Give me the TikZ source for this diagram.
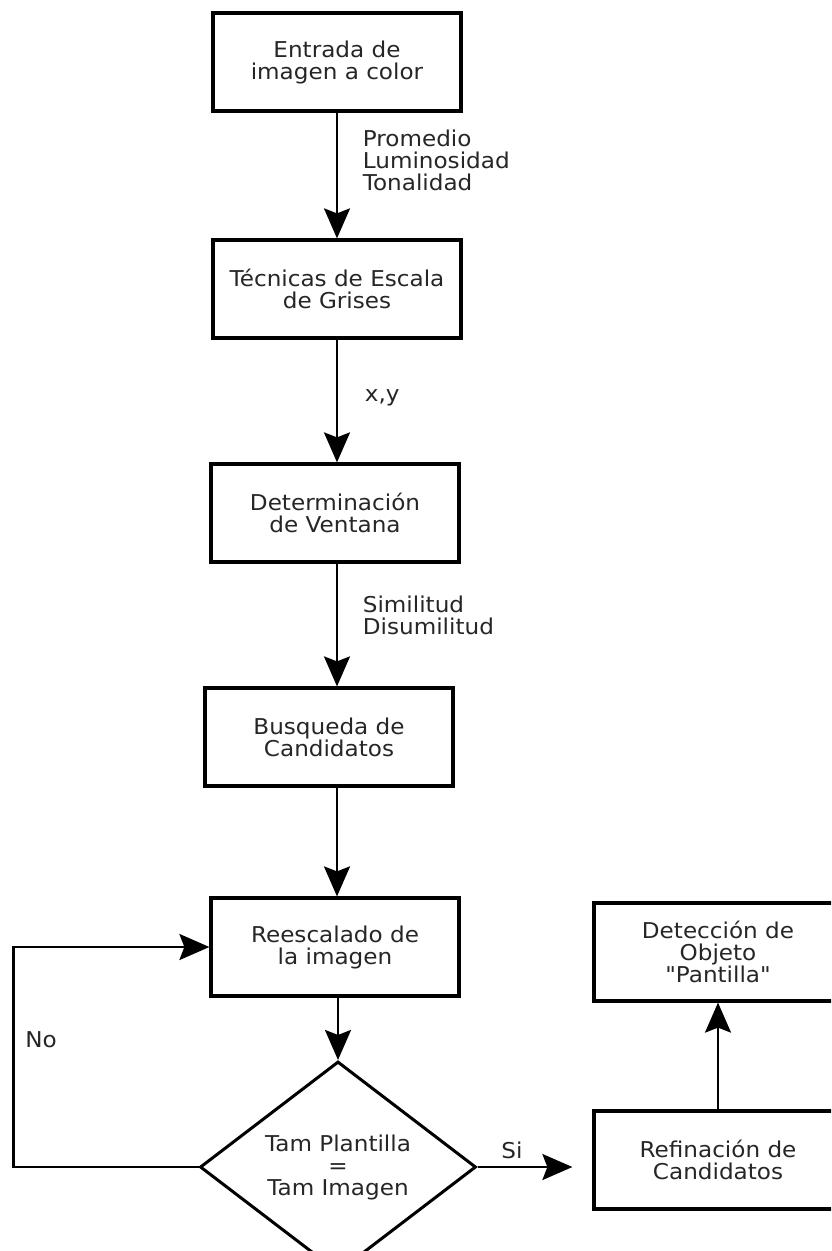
\documentclass[tikz,border=0pt]{standalone}
\usepackage{fontspec}
\setmainfont{DejaVu Sans}[FakeStretch=1.06, Ligatures=TeXOff]
\usepackage{tikz}
\usetikzlibrary{arrows.meta,shapes.geometric,positioning,calc}

\begin{document}
\begin{tikzpicture}[x=0.5pt, y=-0.5pt,
    font=\fontsize{10.9}{11}\selectfont,
    caja/.style={draw, line width=1.6pt, minimum width=124pt, minimum height=49pt, align=center, text=black!85},
    flecha/.style={line width=1.2pt, -{Stealth[length=15pt, width=13pt, inset=2.5pt]}},
    etiq/.style={anchor=west, align=left, text=black!85}]
    \useasboundingbox (0,0) rectangle (831,1251);
    \clip (0,0) rectangle (831,1251);
    % columna principal
    \node[caja] (ent) at (337,62) {Entrada de\\imagen a color};
    \node[caja] (tec) at (337,289) {Técnicas de Escala\\de Grises};
    \node[caja] (det) at (335,513) {Determinación\\de Ventana};
    \node[caja] (bus) at (329,737) {Busqueda de\\Candidatos};
    \node[caja] (ree) at (335,947) {Reescalado de\\la imagen};
    \node[draw, diamond, line width=1.5pt, minimum width=138pt, minimum height=88pt, inner sep=0pt, align=center, text=black!85] (tam) at (338,1167) {Tam Plantilla\\=\\Tam Imagen};
    % lado derecho
    \node[caja] (obj) at (718,952) {Detección de\\Objeto\\"Pantilla"};
    \node[caja] (ref) at (718,1160) {Refinación de\\Candidatos};
    % conexiones
    \draw[flecha] (ent) -- node[etiq, pos=0.38, xshift=9pt] {Promedio\\Luminosidad\\Tonalidad} (tec);
    \draw[flecha] (tec) -- node[etiq, pos=0.47, xshift=10pt] {x,y} (tec |- det.north);
    \draw[flecha] (det.south -| tec) -- node[etiq, pos=0.42, xshift=9pt] {Similitud\\Disumilitud} (tec |- bus.north);
    \draw[flecha] (bus.south -| tec) -- (tec |- ree.north);
    \draw[flecha] (ree.south -| tam) -- (tam);
    \draw[flecha] (tam.west) -- ++(-185,0) |- node[pos=0.29, right, xshift=2pt, text=black!85] {No} (ree.west);
    \draw[flecha, shorten >=10pt] (tam.east) -- node[above, pos=0.3, text=black!85] {Si} (tam.east -| ref.west);
    \draw[flecha] (ref) -- (obj);
\end{tikzpicture}
\end{document}
